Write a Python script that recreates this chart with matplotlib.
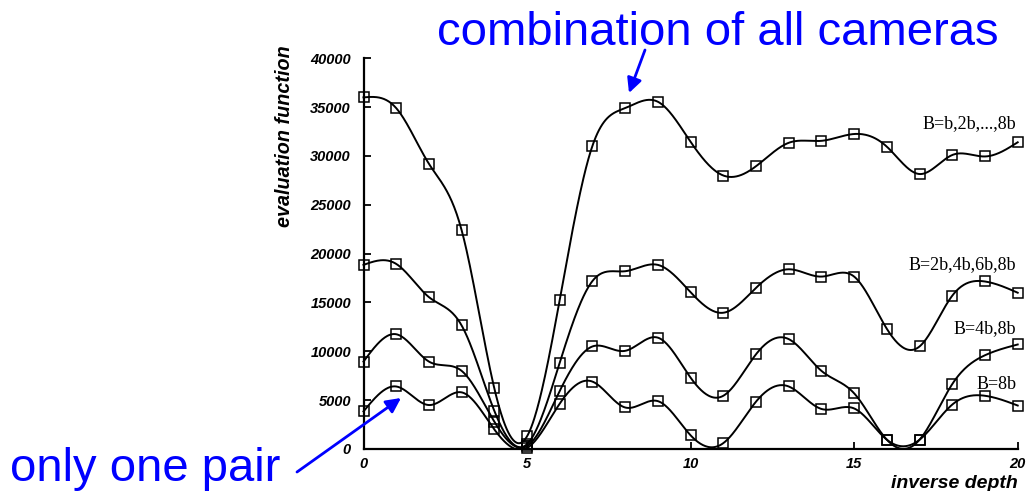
import numpy as np
import matplotlib
matplotlib.use("Agg")
import matplotlib.pyplot as plt

# ---------------- data ----------------
inverse_depth = list(range(0, 21))
series_labels = ["B=b,2b,...,8b", "B=2b,4b,6b,8b", "B=4b,8b", "B=8b"]
s_all = [36000, 34900, 29200, 22400, 6200, 1300, 15300, 31050, 34900, 35550, 31450,
         28000, 28950, 31350, 31550, 32250, 30950, 28150, 30100, 29950, 31400]
s_2b = [18850, 18950, 15550, 12650, 3900, 500, 8850, 17200, 18200, 18850, 16050,
        13950, 16500, 18400, 17650, 17650, 12300, 10500, 15700, 17150, 16000]
s_4b = [8950, 11750, 8950, 8000, 2800, 300, 5950, 10500, 10050, 11400, 7300,
        5450, 9700, 11250, 8000, 5700, 950, 950, 6650, 9600, 10700]
s_8b = [3850, 6400, 4500, 5800, 2000, 100, 4650, 6900, 4250, 4900, 1400,
        600, 4850, 6400, 4100, 4150, 950, 950, 4550, 5450, 4450]
y_ticks = [0, 5000, 10000, 15000, 20000, 25000, 30000, 35000, 40000]
x_ticks = [0, 5, 10, 15, 20]


def natural_spline(x, y, xs):
    x = np.asarray(x, float)
    y = np.asarray(y, float)
    n = len(x)
    h = np.diff(x)
    A = np.zeros((n, n))
    b = np.zeros(n)
    A[0, 0] = 1
    A[-1, -1] = 1
    for i in range(1, n - 1):
        A[i, i - 1] = h[i - 1]
        A[i, i] = 2 * (h[i - 1] + h[i])
        A[i, i + 1] = h[i]
        b[i] = 3 * ((y[i + 1] - y[i]) / h[i] - (y[i] - y[i - 1]) / h[i - 1])
    c = np.linalg.solve(A, b)
    bb = (y[1:] - y[:-1]) / h - h * (2 * c[:-1] + c[1:]) / 3
    d = (c[1:] - c[:-1]) / (3 * h)
    idx = np.clip(np.searchsorted(x, xs) - 1, 0, n - 2)
    dx = xs - x[idx]
    return y[idx] + bb[idx] * dx + c[idx] * dx ** 2 + d[idx] * dx ** 3


W, H = 1036, 491
fig = plt.figure(figsize=(W / 100, H / 100), dpi=100)
ax_l, ax_r, ax_b, ax_t = 363.5, 1017.7, 449.0, 58.3
ax = fig.add_axes([ax_l / W, 1 - ax_b / H, (ax_r - ax_l) / W, (ax_b - ax_t) / H])

xs = np.linspace(0, 20, 801)
for ys in [s_all, s_2b, s_4b, s_8b]:
    curve = np.maximum(natural_spline(inverse_depth, ys, xs), 0)
    ax.plot(xs, curve, color="black", lw=1.4, clip_on=False, zorder=2)
    ax.plot(inverse_depth, ys, linestyle="none", marker="s", markersize=6.5,
            markerfacecolor="none", markeredgecolor="black", markeredgewidth=1.1,
            clip_on=False, zorder=3)

ax.set_xlim(0, 20)
ax.set_ylim(0, 40000)
ax.set_xticks(x_ticks)
ax.set_yticks(y_ticks)
ax.set_xticklabels([str(v) for v in x_ticks])
ax.set_yticklabels([str(v) for v in y_ticks])
for s in ["top", "right"]:
    ax.spines[s].set_visible(False)
for s in ["left", "bottom"]:
    ax.spines[s].set_linewidth(1.6)
ax.tick_params(axis="both", direction="in", length=5, width=1.3)
ax.tick_params(axis="y", pad=9)
ax.tick_params(axis="x", pad=6)
for lbl in ax.get_xticklabels() + ax.get_yticklabels():
    lbl.set_fontfamily("Liberation Sans")
    lbl.set_fontweight("bold")
    lbl.set_fontstyle("italic")
    lbl.set_fontsize(10.5)

fig.text(285 / W, 1 - 45 / H, "evaluation function", rotation=90, ha="center", va="top",
         family="Liberation Sans", weight="bold", style="italic", fontsize=14.2)
fig.text(1018 / W, 1 - 483 / H, "inverse depth", ha="right", va="center",
         family="Liberation Sans", weight="bold", style="italic", fontsize=14)

label_y = [33300, 18850, 12300, 6650]
for lab, yy in zip(series_labels, label_y):
    ax.text(19.95, yy, lab, ha="right", va="center", family="Liberation Serif", fontsize=13)

blue = "#0000FF"
fig.text(437 / W, 1 - 45 / H, "combination of all cameras", ha="left", va="baseline",
         family="Liberation Sans", color=blue, fontsize=34)
fig.text(10 / W, 1 - 481 / H, "only one pair", ha="left", va="baseline",
         family="Liberation Sans", color=blue, fontsize=34)

ax.annotate("", xy=(629, H - 93), xytext=(645, H - 50), xycoords="figure pixels",
            textcoords="figure pixels",
            arrowprops=dict(arrowstyle="-|>", color=blue, lw=2, mutation_scale=22,
                            shrinkA=0, shrinkB=0))
ax.annotate("", xy=(401, H - 398), xytext=(297, H - 472), xycoords="figure pixels",
            textcoords="figure pixels",
            arrowprops=dict(arrowstyle="-|>", color=blue, lw=2, mutation_scale=22,
                            shrinkA=0, shrinkB=0))

fig.savefig("out.png", dpi=100)
